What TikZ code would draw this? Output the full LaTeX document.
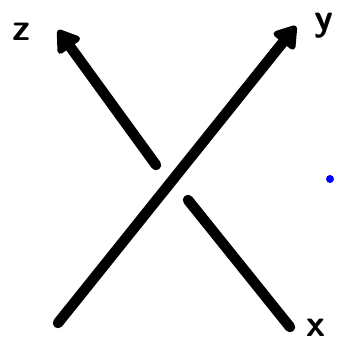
\documentclass[tikz,border=0pt]{standalone}
\usepackage{tikz}
\usetikzlibrary{arrows.meta}

\begin{document}
\begin{tikzpicture}[
    x=1pt, y=-1pt,
    strand/.style={line width=10.5pt, line cap=round},
    arr/.style={strand, -{Triangle[length=24pt, width=30pt, round]}},
    lab/.style={font=\fontsize{38}{38}\selectfont\bfseries\sffamily, inner sep=0pt}
]
\useasboundingbox (0,0) rectangle (341,346);

% --- Points ---
\coordinate (sw)  at (58,323);
\coordinate (ne)  at (296,26);
\coordinate (se)  at (290,327);
\coordinate (mid1) at (188,200);
\coordinate (mid2) at (156,165);
\coordinate (nw)  at (58,30);

% --- Labels ---
\node[lab] (lz) at (22,32)  {z};
\node[lab, anchor=base] (ly) at (324,30) {y};
\node[lab, anchor=base] (lx) at (316,336) {x};
\fill[blue] (330,179) circle (4pt);

% over strand
\draw[arr] (sw) -- (ne);

% under strand, broken
\draw[strand] (se) -- (mid1);
\draw[arr] (mid2) -- (nw);

\end{tikzpicture}
\end{document}
